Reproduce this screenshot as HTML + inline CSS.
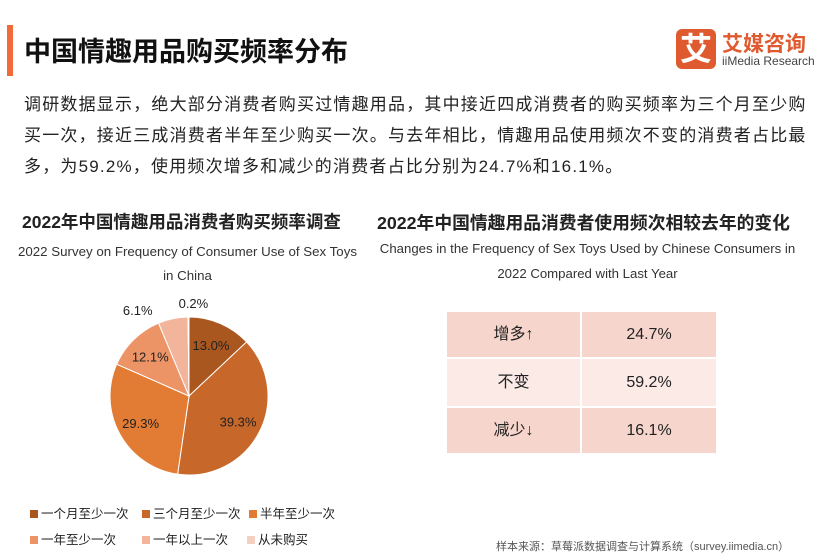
<!DOCTYPE html>
<html><head><meta charset="utf-8">
<style>
body{margin:0;width:823px;height:550px;background:#fff;overflow:hidden;position:relative;font-family:"Liberation Sans","Noto Sans CJK SC",sans-serif;color:#222}
.a{position:absolute;white-space:nowrap}
</style></head><body>
<div class="a" style="left:7px;top:25px;width:6px;height:51px;background:#f26a3a"></div>
<div class="a" style="left:24px;top:30px;font-size:27px;font-weight:bold;color:#111">中国情趣用品购买频率分布</div>
<div class="a" style="left:676px;top:29px;width:40px;height:40px;background:#e05a2f;border-radius:6px;color:#fff;font-size:32px;font-weight:bold;line-height:40px;text-align:center">艾</div>
<div class="a" style="left:722px;top:28px;font-size:21px;font-weight:bold;color:#e05a2f">艾媒咨询</div>
<div class="a" style="left:722px;top:54px;font-size:12px;color:#444">iiMedia Research</div>
<div class="a" style="left:24px;top:89px;width:792px;font-size:17px;letter-spacing:1.2px;line-height:31px;white-space:normal;color:#222">调研数据显示，绝大部分消费者购买过情趣用品，其中接近四成消费者的购买频率为三个月至少购买一次，接近三成消费者半年至少购买一次。与去年相比，情趣用品使用频次不变的消费者占比最多，为59.2%，使用频次增多和减少的消费者占比分别为24.7%和16.1%。</div>
<div class="a" style="left:22px;top:209px;font-size:17.5px;font-weight:bold">2022年中国情趣用品消费者购买频率调查</div>
<div class="a" style="left:0;width:375px;top:240px;font-size:13.3px;line-height:24px;text-align:center;white-space:normal;color:#333">2022 Survey on Frequency of Consumer Use of Sex Toys<br>in China</div>
<div class="a" style="left:377px;top:209px;font-size:17.8px;font-weight:bold">2022年中国情趣用品消费者使用频次相较去年的变化</div>
<div class="a" style="left:370px;width:435px;top:236px;font-size:13.2px;line-height:25px;text-align:center;white-space:normal;color:#333">Changes in the Frequency of Sex Toys Used by Chinese Consumers in<br>2022 Compared with Last Year</div>
<svg class="a" id="pie" style="left:0;top:280px" width="380" height="210"></svg>
<div class="a" style="left:447px;top:312px;width:269px;font-size:16px">
 <div style="display:flex;height:45px;background:#f6d5cc;border-bottom:2px solid #fff"><div style="width:133px;border-right:2px solid #fff;text-align:center;line-height:45px">增多↑</div><div style="flex:1;text-align:center;line-height:45px">24.7%</div></div>
 <div style="display:flex;height:47px;background:#fbeae5;border-bottom:2px solid #fff"><div style="width:133px;border-right:2px solid #fff;text-align:center;line-height:47px">不变</div><div style="flex:1;text-align:center;line-height:47px">59.2%</div></div>
 <div style="display:flex;height:45px;background:#f6d5cc"><div style="width:133px;border-right:2px solid #fff;text-align:center;line-height:45px">减少↓</div><div style="flex:1;text-align:center;line-height:45px">16.1%</div></div>
</div>
<div class="a" id="legend" style="left:30px;top:503px;font-size:12.5px;color:#222"></div>
<div class="a" style="left:496px;top:538px;font-size:11px;color:#555">样本来源：草莓派数据调查与计算系统（survey.iimedia.cn）</div>
<script>
const categories=["一个月至少一次","三个月至少一次","半年至少一次","一年至少一次","一年以上一次","从未购买"];
const values=[13.0,39.3,29.3,12.1,6.1,0.2];
const colors=["#a9561f","#c8672a","#e27b34","#ec9466","#f2b49a","#f5cfc0"];
const svg=document.getElementById('pie');const NS="http://www.w3.org/2000/svg";
const cx=189,cy=116,r=79;const tot=values.reduce((a,b)=>a+b,0);
let ang=0;
function pt(a,rr){return [cx+rr*Math.sin(a),cy-rr*Math.cos(a)];}
values.forEach((v,i)=>{
 const a0=ang,a1=ang+v/tot*2*Math.PI;ang=a1;
 const p0=pt(a0,r),p1=pt(a1,r);
 const path=document.createElementNS(NS,'path');
 path.setAttribute('d',`M${cx},${cy}L${p0[0]},${p0[1]}A${r},${r} 0 ${a1-a0>Math.PI?1:0} 1 ${p1[0]},${p1[1]}Z`);
 path.setAttribute('fill',colors[i]);path.setAttribute('stroke','#fff');path.setAttribute('stroke-width','1');
 
 
 svg.appendChild(path);
 const mid=(a0+a1)/2;const outside=v<8;
 let lp,anchor='middle';
 if(outside){
   lp=pt(mid,r+12);
   if(v<1){lp[0]+=5;lp[1]-=2;}else{anchor='end';lp[0]-=18;lp[1]+=3;}
 }else lp=pt(mid,r*0.7);
 const t=document.createElementNS(NS,'text');
 t.setAttribute('x',lp[0]);t.setAttribute('y',lp[1]+5);t.setAttribute('text-anchor',anchor);
 t.setAttribute('font-size','13');t.setAttribute('fill','#222');t.textContent=v.toFixed(1)+'%';
 
 
 svg.appendChild(t);
});
const lg=document.getElementById('legend');
const pos=[[0,0],[112,0],[219,0],[0,26],[112,26],[217,26]];
categories.forEach((c,i)=>{
 const d=document.createElement('div');
 
 
 d.style.cssText=`position:absolute;left:${pos[i][0]}px;top:${pos[i][1]}px;white-space:nowrap`;
 d.innerHTML=`<span style="display:inline-block;width:8px;height:8px;background:${colors[i]};margin-right:3px"></span>${c}`;
 lg.appendChild(d);
});
</script>
</body></html>
